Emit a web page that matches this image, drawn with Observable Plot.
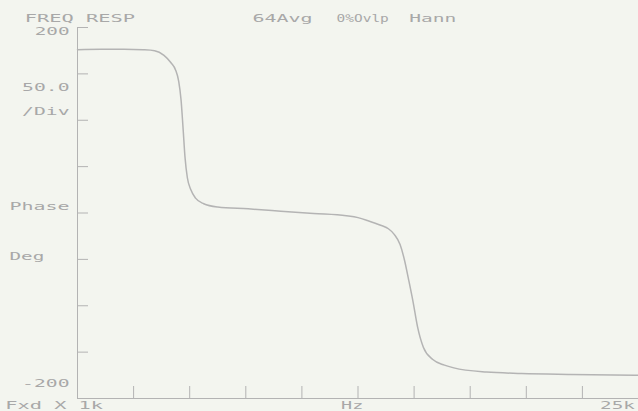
<!DOCTYPE html>
<html><head><meta charset="utf-8">
<script src="https://cdn.jsdelivr.net/npm/d3@7"></script>
<script src="https://cdn.jsdelivr.net/npm/@observablehq/plot@0.6"></script>
<style>
html,body{margin:0;padding:0;background:#f3f5ef;}
#chart{width:638px;height:411px;overflow:hidden;}
</style></head><body><div id="chart"></div>
<script>
// Frequency (kHz) and phase (degrees)
const freqK = [1.0, 2.0, 3.0, 3.8, 4.3, 4.7, 5.0, 5.2, 5.33, 5.43, 5.52, 5.6, 5.7, 5.85, 6.05, 6.4, 7.0, 8.3, 9.7, 11.1, 12.5, 13.0, 13.4, 14.0, 14.3, 14.55, 14.8, 15.0, 15.15, 15.35, 15.55, 15.8, 16.2, 16.7, 17.1, 18.5, 20.0, 22.1, 25.0];
const phaseDeg = [176, 176.5, 176.5, 176, 175, 170, 162, 154, 142, 122, 90, 60, 38, 25, 16, 10, 6.5, 4.5, 2, -0.5, -3, -5, -8, -13.5, -17, -23, -34, -52, -70, -95, -123, -145, -158, -164, -167, -171.5, -173, -174, -175];

const yTicks = [200, 150, 100, 50, 0, -50, -100, -150, -200];
const xTicks = [1, 3.4, 5.8, 8.2, 10.6, 13, 15.4, 17.8, 20.2, 22.6, 25];

const headerText = ["FREQ RESP", "64Avg", "0%Ovlp", "Hann"];
const headerAt = [1.1, 9.77, 13.2, 16.2];

const yLabelText = ["200", "50.0", "/Div", "-200"];
const yLabelAt = [195.5, 135, 109.5, -184];
const ySideText = ["Phase", "Deg"];
const ySideAt = [7, -47];

const xLabelText = ["Fxd X 1k", "Hz", "25k"];
const xLabelAt = [0, 12.75, 24.1];

const points = freqK.map((f, i) => ({f, p: phaseDeg[i]}));
const ink = "#a8a8a8";
const axisInk = "#b3b3b3";

const chart = Plot.plot({
  width: 638, height: 411,
  marginLeft: 77, marginRight: 0, marginTop: 27, marginBottom: 13,
  style: {background: "#f3f5ef", fontFamily: "DejaVu Sans Mono", fontSize: "10.5px", color: axisInk, overflow: "visible"},
  x: {domain: [1, 25], ticks: xTicks, tickSize: -12, tickFormat: () => "", label: null},
  y: {domain: [-200, 200], ticks: yTicks, tickSize: -11, tickFormat: () => "", label: null},
  marks: [
    Plot.ruleX([1], {stroke: axisInk}),
    Plot.ruleY([-200], {stroke: axisInk}),
    Plot.line(points, {x: "f", y: "p", curve: "monotone-x", stroke: "#b4b4b4", strokeWidth: 1.5}),
    Plot.text(headerText, {x: (d, i) => headerAt[i], text: d => d, frameAnchor: "top", dy: -12.5, fill: ink, textAnchor: "middle", className: "hp"}),
    Plot.text(yLabelText, {y: (d, i) => yLabelAt[i], text: d => d, frameAnchor: "left", dx: -8, fill: ink, textAnchor: "end", className: "hp"}),
    Plot.text(ySideText, {y: (d, i) => ySideAt[i], text: d => d, frameAnchor: "left", dx: -68, fill: ink, textAnchor: "start", className: "hp"}),
    Plot.text(xLabelText, {x: (d, i) => xLabelAt[i], text: d => d, frameAnchor: "bottom", dy: 10, fill: ink, textAnchor: "middle", className: "hp"})
  ]
});

// stretch the glyphs to mimic the wide analyzer font (narrower cells for the
// two right-hand header items, as on the screen)
const cell = {"0%Ovlp": 9.2, "Hann": 12.5};
chart.querySelectorAll("g.hp text").forEach(t => {
  const s = t.textContent;
  const w = cell[s] || 12.6;
  t.setAttribute("textLength", s.length * w - 3);
  t.setAttribute("lengthAdjust", "spacingAndGlyphs");
});
document.getElementById("chart").appendChild(chart);
</script>
</body></html>
